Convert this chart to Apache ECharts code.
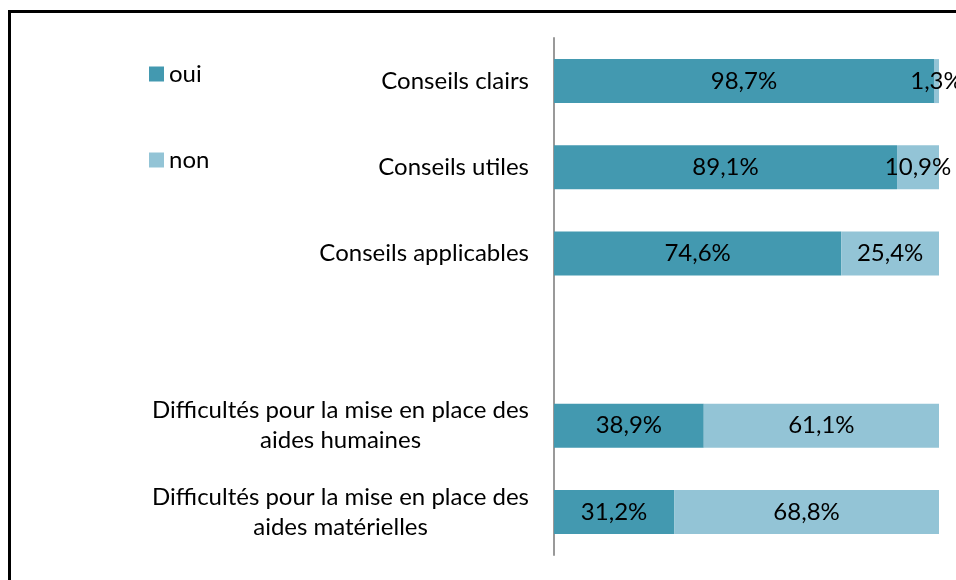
<!DOCTYPE html>
<html>
<head>
<meta charset="utf-8">
<script src="https://cdn.jsdelivr.net/npm/echarts@6/dist/echarts.min.js"></script>
<style>html,body{margin:0;padding:0;background:#fff;}#c{width:956px;height:580px;}</style>
</head>
<body>
<div id="c"></div>
<script>
const categories = [
  'Conseils clairs',
  'Conseils utiles',
  'Conseils applicables',
  '',
  'Difficultés pour la mise en place des\naides humaines',
  'Difficultés pour la mise en place des\naides matérielles'
];
const seriesNames = ['oui', 'non'];
const ouiValues = [98.7, 89.1, 74.6, null, 38.9, 31.2];
const nonValues = [1.3, 10.9, 25.4, null, 61.1, 68.8];

const FONT = 'Lato';
const FS = 24;
const chart = echarts.init(document.getElementById('c'));
const fmt = p => p.value == null ? '' : p.value.toFixed(1).replace('.', ',') + '%';
const labelCfg = {show: true, position: 'inside', formatter: fmt, color: '#000', fontSize: FS, fontFamily: FONT};

chart.setOption({
  animation: false,
  backgroundColor: '#fff',
  graphic: [{
    type: 'rect', left: 7, top: 9, z: 100,
    shape: {width: 1000, height: 1000},
    style: {fill: 'none', stroke: '#000', lineWidth: 3}
  }],
  legend: {
    orient: 'vertical', left: 149, top: 62, padding: 0,
    itemWidth: 15, itemHeight: 15, itemGap: 62,
    icon: 'rect',
    textStyle: {fontSize: FS, fontFamily: FONT, color: '#000'},
    data: seriesNames
  },
  grid: {left: 554, top: 38, width: 385, height: 517},
  xAxis: {type: 'value', min: 0, max: 100, show: false},
  yAxis: {
    type: 'category', data: categories, inverse: true,
    axisLine: {show: true, lineStyle: {color: '#999', width: 2}},
    axisTick: {show: false},
    axisLabel: {
      margin: 25, fontSize: FS, fontFamily: FONT, color: '#000', lineHeight: 30,
      formatter: v => v.indexOf('\n') >= 0 ? v.split('\n').map(l => '{c|' + l + '}').join('\n') : v,
      rich: {c: {align: 'center', fontSize: FS, fontFamily: FONT, color: '#000', lineHeight: 30}}
    }
  },
  series: [
    {name: seriesNames[0], type: 'bar', stack: 't', data: ouiValues, barWidth: 44,
     itemStyle: {color: '#4399B0'}, label: labelCfg},
    {name: seriesNames[1], type: 'bar', stack: 't', data: nonValues, barWidth: 44,
     itemStyle: {color: '#93C4D6'}, label: labelCfg}
  ]
});
</script>
</body>
</html>
